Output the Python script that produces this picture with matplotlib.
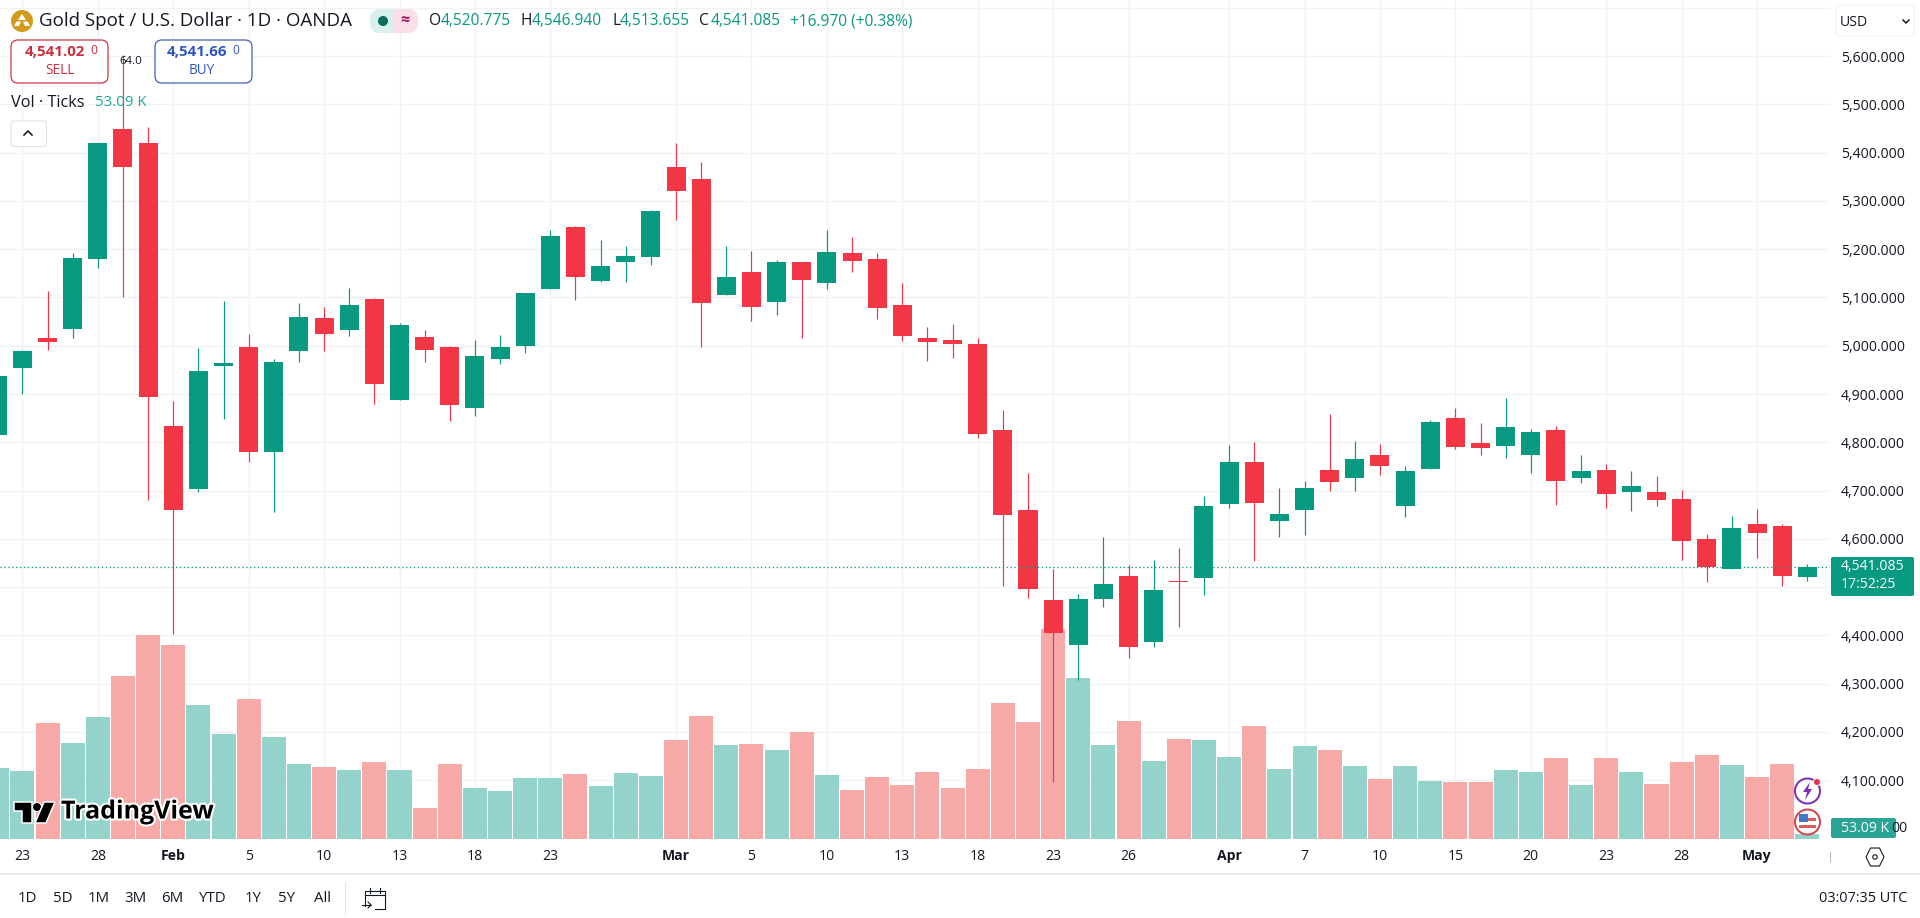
import matplotlib
matplotlib.use("Agg")
import matplotlib.pyplot as plt
from matplotlib.patches import FancyBboxPatch, Circle, Polygon, Rectangle
import matplotlib.patheffects as pe

plt.rcParams['font.family'] = ['Open Sans', 'DejaVu Sans']

# ---------- data ----------
opens = [4815,4953,5016,5035,5180,5449,5420,4833,4704,4958,4997,4779,4990,5058,5033,5097,4888,5018,4997,4870,
         4973,5000,5118,5245,5134,5174,5183,5370,5345,5106,5152,5091,5173,5129,5192,5180,5084,5016,5012,5004,
         4825,4660,4473,4381,4476,4523,4387,4512,4518,4673,4759,4637,4660,4743,4727,4774,4669,4745,4850,4798,
         4793,4774,4825,4725,4743,4696,4697,4682,4600,4538,4631,4626,4520.775]
highs = [4937,4991,5113,5192,5420,5602,5453,4885,4995,5092,5024,4972,5089,5080,5120,5098,5047,5032,5000,5012,
         5022,5109,5240,5249,5219,5207,5281,5420,5381,5206,5196,5177,5173,5240,5226,5192,5130,5038,5045,5017,
         4867,4737,4538,4485,4603,4546,4556,4581,4688,4794,4800,4706,4720,4859,4803,4796,4751,4846,4871,4840,
         4892,4827,4834,4774,4755,4740,4730,4701,4610,4647,4662,4630,4546.94]
lows = [4815,4901,4991,5015,5160,5100,4680,4403,4697,4849,4760,4656,4967,4990,5021,4880,4888,4967,4844,4855,
        4963,4984,5118,5095,5131,5132,5168,5261,4998,5106,5052,5064,5017,5118,5152,5056,5010,4969,4975,4808,
        4503,4478,4097,4308,4458,4353,4376,4418,4484,4663,4555,4603,4608,4700,4700,4732,4645,4745,4787,4774,
        4767,4737,4670,4716,4664,4658,4668,4556,4510,4538,4560,4502,4513.655]
closes = [4937,4989,5007,5182,5420,5370,4894,4660,4947,4964,4780,4966,5059,5025,5084,4921,5043,4992,4878,4978,
          4997,5109,5227,5143,5165,5186,5279,5321,5089,5142,5081,5173,5137,5194,5175,5079,5021,5007,5004,4818,
          4650,4497,4406,4475,4507,4376,4494,4510,4668,4759,4675,4651,4705,4718,4765,4750,4740,4842,4791,4789,
          4832,4821,4720,4740,4693,4709,4681,4596,4542,4622,4613,4524,4541.085]
volumes_k = [756,721,1230,1018,1293,1728,2162,2056,1420,1113,1484,1081,795,763,731,816,731,329,795,541,
             509,647,647,689,562,700,668,1049,1304,996,1007,943,1134,678,519,657,572,710,541,742,
             1441,1240,2222,1706,996,1251,827,1060,1049,869,1198,742,986,943,774,636,774,615,604,604,
             731,710,859,572,859,710,583,816,890,784,657,795,53.09]
bar_ids = list(range(-1, 72))
tick_ids = [0,3,6,9,12,15,18,21,26,29,32,35,38,41,44,48,51,54,57,60,63,66,69]
tick_labels = ['23','28','Feb','5','10','13','18','23','Mar','5','10','13','18','23','26','Apr','7','10','15','20','23','28','May']
month_labels = {'Feb','Mar','Apr','May'}
price_ticks = list(range(4000, 5800, 100))
hidden_price_labels = {4000, 4500, 5700}

ranges = ['1D','5D','1M','3M','6M','YTD','1Y','5Y','All']
range_x = [27.5,62.5,98.6,135,172,212.5,253,286.6,322]

# ---------- style ----------
UP, DOWN = '#089981', '#F23645'
VUP, VDOWN = '#93D3CC', '#F7A9A7'
GRID = '#F1F2F4'
INK = '#131722'
W, H = 1920, 918
PANE_R, PANE_B = 1830, 839
px = 0.72

fig = plt.figure(figsize=(W/100, H/100), dpi=100, facecolor='white')
rect = [0, 1-PANE_B/H, PANE_R/W, PANE_B/H]
xlim = (-22.4/25.14, (PANE_R-22.4)/25.14)
ylim = (3978.3, 5716.1)

# grid layer
ax_g = fig.add_axes(rect, zorder=1)
ax_g.set_xlim(xlim); ax_g.set_ylim(ylim)
ax_g.set_xticks(tick_ids); ax_g.set_yticks(price_ticks)
ax_g.grid(True, color=GRID, lw=1.0)
ax_g.tick_params(length=0, labelbottom=False, labelleft=False)
for s in ax_g.spines.values(): s.set_visible(False)

# volume layer
ax_v = fig.add_axes(rect, zorder=2, facecolor='none')
ax_v.set_xlim(xlim); ax_v.set_ylim(0, 8893)
ax_v.bar(bar_ids, volumes_k, width=0.955,
         color=[VUP if c >= o else VDOWN for o, c in zip(opens, closes)], linewidth=0)
ax_v.set_yticks([])
ax_v.set_xticks(tick_ids)
ax_v.set_xticklabels(tick_labels, fontsize=14*px, color=INK)
for t in ax_v.get_xticklabels():
    if t.get_text() in month_labels: t.set_fontweight('bold')
ax_v.tick_params(axis='x', length=0, pad=10*px)
for s in ax_v.spines.values(): s.set_visible(False)

# price layer
ax = fig.add_axes(rect, zorder=3, facecolor='none')
ax.set_xlim(xlim); ax.set_ylim(ylim)
cols = [UP if c >= o else DOWN for o, c in zip(opens, closes)]
ax.vlines(bar_ids, lows, highs, colors=cols, lw=1.2*px)
ax.bar(bar_ids, [abs(c-o) for o, c in zip(opens, closes)], bottom=[min(o, c) for o, c in zip(opens, closes)],
       width=0.756, color=cols, linewidth=0)
ax.axhline(closes[-1], color=UP, lw=1.3*px, ls=(0, (1, 2)))
ax.set_xticks([])
ax.yaxis.tick_right()
ax.set_yticks(price_ticks)
ax.set_yticklabels(['' if p in hidden_price_labels else f'{p:,.3f}' for p in price_ticks], fontsize=14*px, color=INK)
ax.tick_params(axis='y', length=0, pad=11*px)
for s in ax.spines.values(): s.set_visible(False)

# ---------- interface layer in pixels ----------
ui = fig.add_axes([0, 0, 1, 1], zorder=10, facecolor='none')
ui.set_xlim(0, W); ui.set_ylim(H, 0); ui.axis('off')

def T(x, y, s, size=14, color=INK, ha='left', weight='normal', **kw):
    return ui.text(x, y, s, fontsize=size*px, color=color, ha=ha, va='center', fontweight=weight, **kw)

def box(x0, y0, x1, y1, r=4, fc='white', ec='none', lw=1):
    p = FancyBboxPatch((x0, y0), x1-x0, y1-y0, boxstyle=f'round,pad=0,rounding_size={r}', fc=fc, ec=ec, lw=lw*px)
    ui.add_patch(p); return p

# header
ui.add_patch(Circle((22, 21), 11, fc='#D49B1A', ec='none'))
ui.add_patch(Polygon([(22,14),(26,20),(18,20)], fc='white', ec='none'))
ui.add_patch(Polygon([(16.5,21.5),(21,21.5),(19,26),(14,26)], fc='white', ec='none'))
ui.add_patch(Polygon([(23,21.5),(27.5,21.5),(30,26),(25,26)], fc='white', ec='none'))
T(39, 21, 'Gold Spot / U.S. Dollar · 1D · OANDA', 18.8)
box(370, 9, 396, 33, r=10, fc='#D9F0ED')
box(394, 9, 418, 33, r=10, fc='#FBDFE8')
ui.add_patch(Rectangle((384, 9), 10, 24, fc='#D9F0ED', ec='none'))
ui.add_patch(Rectangle((394, 9), 10, 24, fc='#FBDFE8', ec='none'))
ui.add_patch(Circle((383, 21), 5, fc='#0B6B5C', ec='none'))
T(405, 21, '≈', 16, '#A5155E', ha='center', weight='bold')
for x, s in [(429,'O'),(520,'H'),(612,'L'),(699,'C')]:
    T(x, 21, s, 15.5)
for x, s in [(441,'4,520.775'),(532,'4,546.940'),(620,'4,513.655'),(711,'4,541.085'),(790,'+16.970 (+0.38%)')]:
    T(x, 21, s, 15.5, UP)

# sell / buy
box(11, 40, 108, 83, r=7, ec='#CC2F3C', lw=1.2)
T(25, 52, '4,541.02', 15, '#CC2F3C', weight='bold')
T(90, 50, '0', 12, '#CC2F3C')
T(59.5, 70, 'SELL', 13.5, '#CC2F3C', ha='center')
box(155, 40, 252, 83, r=7, ec='#3B5BB5', lw=1.2)
T(167, 52, '4,541.66', 15, '#2F55C0', weight='bold')
T(232, 50, '0', 12, '#2F55C0')
T(202, 70, 'BUY', 13.5, '#2F55C0', ha='center')
T(119, 61, '64.0', 11.5)

T(11, 103, 'Vol · Ticks', 16.2)
T(95, 103, '53.09 K', 15, '#26A69A')
box(11, 121, 46.5, 146.5, r=3, fc='white', ec='#E0E3EB', lw=1.2)
ui.plot([24, 28, 32], [135, 131, 135], color=INK, lw=1.6*px)

# currency
box(1836, 5, 1914, 36, r=4, fc='white', ec='#F0F3FA', lw=1.2)
T(1840, 22, 'USD', 14)
ui.plot([1903, 1906, 1909], [20, 23, 20], color=INK, lw=1.5*px)

# last price badge
box(1831, 557, 1914, 596, r=2, fc=UP)
T(1841, 567, '4,541.085', 14, 'white')
T(1841, 584, '17:52:25', 14, 'white')
T(1907, 828, '00', 14, ha='right', clip_on=True,
  clip_path=Rectangle((1896, 815), 14, 26, transform=ui.transData))
box(1831, 818, 1896, 838, r=2, fc='#2AA595')
T(1841, 828, '53.09 K', 14, 'white')

# watermark
ui.add_patch(Polygon([(13.5,802),(32,802),(32,823),(22,823),(22,811),(13.5,811)], fc='black', ec='white', lw=1.5*px))
ui.add_patch(Circle((37, 807), 4.5, fc='black', ec='white', lw=1*px))
ui.add_patch(Polygon([(44,802),(55,802),(46,823),(35,823)], fc='black', ec='white', lw=1.5*px))
T(61, 812, 'TradingView', 25, '#000000', weight='bold',
  path_effects=[pe.withStroke(linewidth=3, foreground='white')])

# event icons
ui.add_patch(Circle((1807.5, 791), 12.5, fc='white', ec='#7B2FB5', lw=2*px))
ui.add_patch(Polygon([(1810,782),(1803,792),(1807,792),(1805,800),(1812,789),(1808,789)], fc='#7B2FB5', ec='none'))
ui.add_patch(Circle((1817, 782), 3.5, fc='#E8324A', ec='white', lw=1*px))
ui.add_patch(Circle((1807.5, 822), 12.5, fc='white', ec='#D9434E', lw=2*px))
ui.add_patch(Rectangle((1799, 814), 9, 8, fc='#3F78C8', ec='none'))
ui.add_patch(Rectangle((1808, 818), 8, 3, fc='#E05A5A', ec='none'))
ui.add_patch(Rectangle((1799, 825), 17, 3, fc='#E05A5A', ec='none'))

# axis furniture
ui.plot([0, W], [874, 874], color='#E0E3EB', lw=1.5*px)
ui.plot([1829.5, 1829.5], [852, 861], color='#B2B5BE', lw=1*px)
ui.add_patch(Polygon([(1866,857),(1870.5,848),(1879.5,848),(1884,857),(1879.5,866),(1870.5,866)], fc='white', ec=INK, lw=1.1*px))
ui.add_patch(Circle((1875, 857), 2.2, fc='white', ec=INK, lw=1.1*px))

for x, s in zip(range_x, ranges):
    T(x, 898, s, 15, ha='center')
ui.plot([345, 345], [882, 914], color='#E0E3EB', lw=1*px)
ui.plot([365, 365, 385, 385, 375], [906, 891, 891, 909, 909], color=INK, lw=1.1*px)
ui.plot([365, 385], [895, 895], color=INK, lw=1.1*px)
ui.plot([370, 370], [888, 893], color=INK, lw=1.1*px)
ui.plot([380, 380], [888, 893], color=INK, lw=1.1*px)
ui.plot([362, 371], [905, 905], color=INK, lw=1.1*px)
ui.plot([368, 371, 368], [902, 905, 908], color=INK, lw=1.1*px)
T(1907, 898, '03:07:35 UTC', 14.5, ha='right')

fig.savefig('out.png', dpi=100, facecolor='white')
